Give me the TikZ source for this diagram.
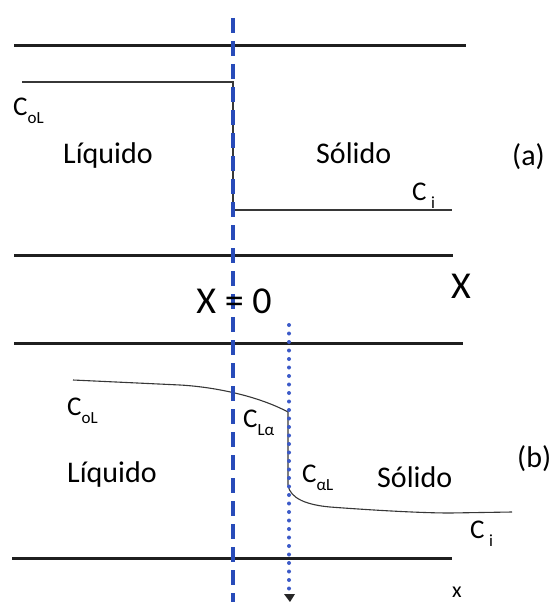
\documentclass[tikz,border=0pt]{standalone}
\usepackage{fontspec}
\setmainfont{Carlito}
\usetikzlibrary{arrows.meta}
\definecolor{dashblue}{RGB}{40,75,185}
\definecolor{dotblue}{RGB}{60,90,200}
\definecolor{curvegray}{RGB}{55,55,55}
\newcommand{\lsub}[1]{\raisebox{-0.3em}{\fontsize{17}{17}\selectfont #1}}
\begin{document}
\begin{tikzpicture}[x=1pt,y=-1pt,
  wall/.style={line width=3pt, black!88},
  prof/.style={line width=1.1pt, curvegray},
  iface/.style={dashblue, line width=3.2pt, dash pattern=on 15pt off 8pt},
  front/.style={dotblue, line width=4pt, line cap=round, dash pattern=on 0pt off 8.5pt},
  lbl/.style={inner sep=0pt, anchor=base west, font=\fontsize{30}{30}\selectfont},
  clbl/.style={inner sep=0pt, anchor=base west, font=\fontsize{27}{27}\selectfont},
  big/.style={inner sep=0pt, anchor=base, font=\fontsize{38}{38}\selectfont}]
\useasboundingbox (0,0) rectangle (551,602);

% walls
\coordinate (w1a) at (14,46);  \coordinate (w1b) at (466,46);
\coordinate (w2a) at (14,255); \coordinate (w2b) at (453,255);
\coordinate (w3a) at (14,343); \coordinate (w3b) at (463,343);
\coordinate (w4a) at (12,558); \coordinate (w4b) at (452,558);
\draw[wall] (w1a) -- (w1b);
\draw[wall] (w2a) -- (w2b);
\draw[wall] (w3a) -- (w3b);
\draw[wall] (w4a) -- (w4b);

% profile (a)
\coordinate (pa0) at (22,82);
\coordinate (pa1) at (233,82);
\coordinate (pa2) at (233,210);
\coordinate (pa3) at (452,210);
\draw[prof] (pa0) -- (pa1) -- (pa2) -- (pa3);

% profile (b)
\coordinate (pb0) at (73,380);
\coordinate (pb1) at (180,385);
\coordinate (pb2) at (288,412);
\coordinate (pb3) at (288,485);
\coordinate (pb4) at (330,507);
\coordinate (pb5) at (450,513);
\coordinate (pb6) at (512,512);
\draw[prof] (pb0) -- (pb1) .. controls (215,387) and (258,396) .. (pb2)
  -- (pb3) .. controls (290,499) and (308,505) .. (pb4)
  .. controls (370,510) and (420,513) .. (pb5) -- (pb6);

% interface X = 0
\coordinate (ia) at (233,18);
\coordinate (ib) at (233,602);
\draw[iface] (ia) -- (ib);

% front position
\coordinate (fa) at (289,325);
\coordinate (fb) at (289,590);
\draw[front] (fa) -- (fb);
\fill[black!85] (284,594) -- (295,594) -- (290,602) -- cycle;

% labels (a)
\node[clbl] (coLa) at (13,115) {C\lsub{oL}};
\node[lbl] (liqa) at (63,163) {Líquido};
\node[lbl] (sola) at (316,163) {Sólido};
\node[lbl] (taga) at (512,165) {(a)};
\node[clbl] (cia) at (412,200) {C\,\lsub{i}};

% middle
\node[big] (x0) at (234,313) {X = 0};
\node[big] (xax) at (461,298) {X};

% labels (b)
\node[clbl] (coLb) at (67,415) {C\lsub{oL}};
\node[lbl] (liqb) at (67,482) {Líquido};
\node[clbl] (cLa) at (243,427) {C\lsub{Lα}};
\node[clbl] (caL) at (302,482) {C\lsub{αL}};
\node[lbl] (solb) at (377,487) {Sólido};
\node[lbl] (tagb) at (517,467) {(b)};
\node[clbl] (cib) at (470,538) {C\,\lsub{i}};
\node[inner sep=0pt, anchor=base, font=\fontsize{22}{22}\selectfont] (xlow) at (457,597) {x};
\end{tikzpicture}
\end{document}
